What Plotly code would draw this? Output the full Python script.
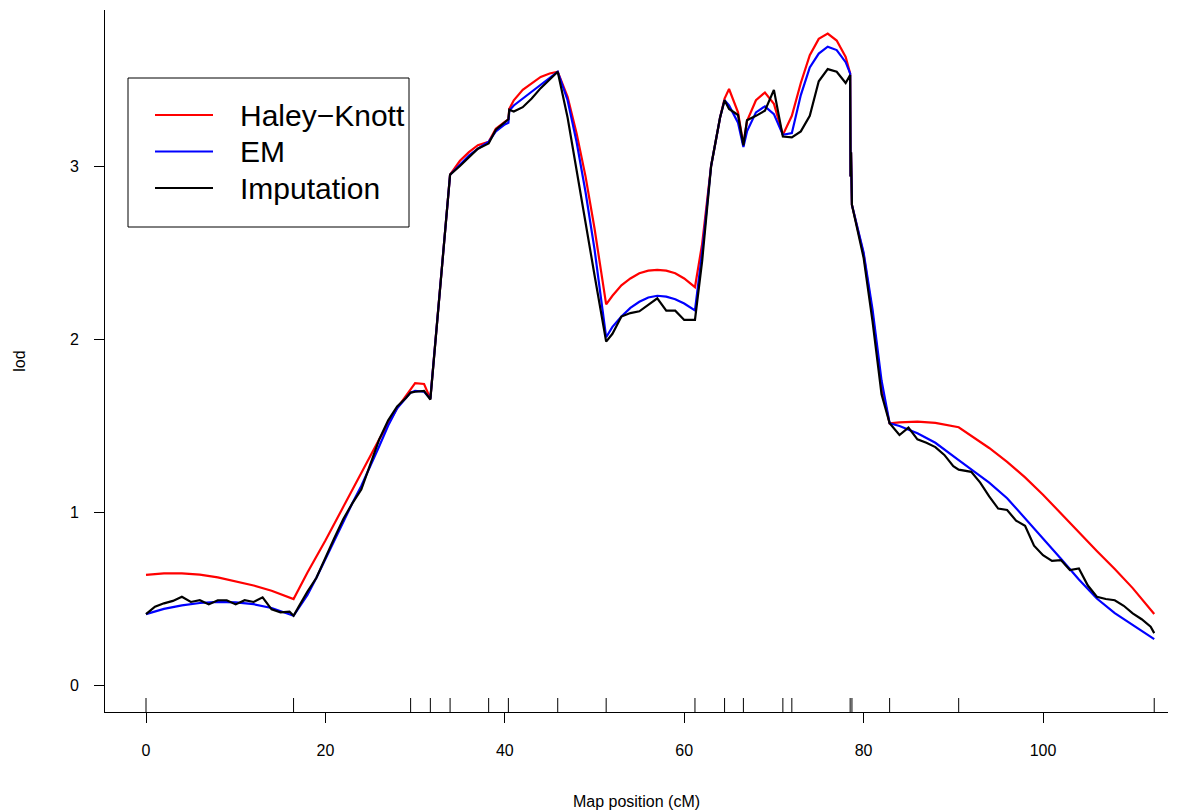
import plotly.graph_objects as go

# ---------------- data ----------------
markers = [0, 16.45, 29.5, 31.7, 33.9, 38.2, 40.4, 45.9, 51.3, 61.2, 64.5, 66.6,
           71.0, 72.0, 78.5, 78.7, 82.9, 90.6, 112.4]

pos_hk = [0, 2, 4, 6, 8, 10, 12, 14, 16.45, 18, 20, 22, 24, 26, 28, 29.5, 30, 31, 31.7,
          33.9, 35, 36, 37, 38.2, 39, 40, 40.4, 40.5, 41, 42, 43, 44, 45, 45.9,
          47, 48, 49, 50, 51.3, 52, 53, 54, 55, 56, 57, 58, 59, 60, 61.2,
          62, 63, 64, 64.5, 65, 66, 66.6, 67, 68, 69, 70, 71, 72, 73, 74, 75, 76, 77, 78,
          78.5, 78.55, 78.6, 78.7, 80, 81, 82, 82.9, 84, 86, 88, 90.6, 92, 94, 96, 98,
          100, 102, 104, 106, 108, 110, 112.4]
lod_hk = [0.636, 0.645, 0.645, 0.638, 0.622, 0.600, 0.575, 0.545, 0.497, 0.65, 0.835, 1.03,
          1.225, 1.42, 1.60, 1.71, 1.745, 1.74, 1.655,
          2.95, 3.03, 3.08, 3.12, 3.14, 3.215, 3.255, 3.27, 3.33, 3.38, 3.44, 3.48, 3.515, 3.535, 3.545,
          3.40, 3.19, 2.94, 2.64, 2.20, 2.25, 2.31, 2.35, 2.38, 2.395, 2.40, 2.395, 2.38, 2.35, 2.30,
          2.55, 3.00, 3.28, 3.39, 3.445, 3.31, 3.12, 3.26, 3.38, 3.425, 3.36, 3.18, 3.29, 3.48,
          3.64, 3.735, 3.765, 3.725, 3.63,
          3.535, 2.94, 3.08, 2.775, 2.49, 2.14, 1.72, 1.513, 1.518, 1.522, 1.515, 1.49, 1.44,
          1.37, 1.29, 1.20, 1.10, 0.99, 0.885, 0.775, 0.67, 0.56, 0.41]

pos_em = [0, 2, 4, 6, 8, 10, 12, 14, 16.45, 17, 18, 19, 20, 21, 22, 23, 24, 25, 26, 27, 28,
          29.5, 30, 31, 31.7, 33.9, 35, 36, 37, 38.2, 39, 40, 40.4, 40.5, 41, 42, 43, 44, 45, 45.9,
          47, 48, 49, 50, 51.3, 52, 53, 54, 55, 56, 57, 58, 59, 60, 61.2,
          62, 63, 64, 64.5, 65, 66, 66.6, 67, 68, 69, 70, 71, 72, 73, 74, 75, 76, 77, 78,
          78.5, 78.55, 78.6, 78.7, 80, 81, 82, 82.9, 84, 86, 88, 90.6, 92, 94, 96, 98,
          100, 102, 104, 106, 108, 110, 112.4]
lod_em = [0.41, 0.44, 0.46, 0.474, 0.48, 0.478, 0.467, 0.445, 0.40, 0.44, 0.52, 0.62, 0.73,
          0.84, 0.95, 1.05, 1.15, 1.26, 1.38, 1.50, 1.60,
          1.69, 1.70, 1.695, 1.655, 2.95, 3.01, 3.06, 3.10, 3.14, 3.20, 3.24, 3.25, 3.32, 3.35,
          3.39, 3.43, 3.47, 3.51, 3.545,
          3.38, 3.14, 2.85, 2.52, 2.01, 2.07, 2.13, 2.18, 2.215, 2.24, 2.25, 2.245, 2.23, 2.205, 2.165,
          2.50, 3.00, 3.28, 3.38, 3.35, 3.25, 3.11, 3.20, 3.31, 3.345, 3.30, 3.18, 3.19, 3.41,
          3.57, 3.65, 3.69, 3.67, 3.60,
          3.535, 2.94, 3.08, 2.775, 2.50, 2.17, 1.76, 1.513, 1.497, 1.455, 1.40, 1.30, 1.245,
          1.17, 1.08, 0.965, 0.85, 0.73, 0.61, 0.50, 0.415, 0.345, 0.265]

pos_imp = [0, 1, 2, 3, 4, 5, 6, 7, 8, 9, 10, 11, 12, 13, 14, 15, 16, 16.45,
           17, 18, 19, 20, 21, 22, 23, 24, 25, 26, 27, 28, 29, 29.5, 30, 31, 31.7,
           33.9, 35, 36, 37, 38, 38.2, 39, 40, 40.4, 40.5, 41, 42, 43, 44, 45, 45.9,
           47, 48, 49, 50, 51.3, 52, 53, 54, 55, 56, 57, 58, 59, 60, 61.2,
           62, 63, 64, 64.5, 65, 66, 66.6, 67, 68, 69, 70, 71, 72, 73, 74, 75, 76, 77, 78,
           78.5, 78.55, 78.6, 78.7, 80, 81, 82, 82.9,
           84, 85, 86, 87, 88, 89, 90, 90.6, 91, 92, 93, 94, 95, 96, 97, 98, 99, 100,
           101, 102, 103, 104, 105, 106, 107, 108, 109, 110, 111, 112, 112.4]
lod_imp = [0.41, 0.453, 0.472, 0.486, 0.51, 0.48, 0.49, 0.466, 0.49, 0.49, 0.466, 0.49, 0.48,
           0.507, 0.437, 0.42, 0.424, 0.40,
           0.45, 0.54, 0.62, 0.74, 0.85, 0.96, 1.05, 1.13, 1.28, 1.42, 1.53, 1.61, 1.66, 1.69,
           1.695, 1.70, 1.65,
           2.95, 3.00, 3.05, 3.10, 3.125, 3.13, 3.21, 3.255, 3.27, 3.325, 3.315, 3.34, 3.39, 3.45,
           3.50, 3.545,
           3.28, 2.97, 2.67, 2.37, 1.985, 2.03, 2.13, 2.15, 2.16, 2.20, 2.235, 2.164, 2.164, 2.11, 2.11,
           2.45, 3.00, 3.28, 3.38, 3.33, 3.295, 3.12, 3.265, 3.29, 3.32, 3.44, 3.17, 3.165, 3.20,
           3.29, 3.49, 3.56, 3.545, 3.48,
           3.526, 2.94, 3.08, 2.775, 2.47, 2.10, 1.68, 1.513,
           1.445, 1.488, 1.42, 1.40, 1.375, 1.33, 1.265, 1.245, 1.24, 1.232, 1.17, 1.09, 1.02,
           1.012, 0.95, 0.92, 0.805, 0.75,
           0.717, 0.722, 0.665, 0.674, 0.575, 0.51, 0.497, 0.49, 0.458, 0.414, 0.38, 0.337, 0.30]

x_ticks = [0, 20, 40, 60, 80, 100]
y_ticks = [0, 1, 2, 3]
series_names = ["Haley\u2212Knott", "EM", "Imputation"]
series_colors = ["#FF0000", "#0000FF", "#000000"]

# ---------------- figure ----------------
FONT = "Liberation Sans, Arial, Helvetica, sans-serif"
OFF = 8                     # page body margin of the browser
W, H = 1185 - OFF, 812 - OFF
ML, MR, MT, MB = 105 - OFF, 17, 10 - OFF, 100
PW, PH = W - ML - MR, H - MT - MB

fig = go.Figure()
for name, px, py, col in zip(series_names, [pos_hk, pos_em, pos_imp],
                             [lod_hk, lod_em, lod_imp], series_colors):
    fig.add_trace(go.Scatter(x=px, y=py, mode="lines", name=name,
                             line=dict(color=col, width=2.2), showlegend=False))

# marker rug along the bottom axis
for m in markers:
    fig.add_shape(type="line", xref="x", yref="paper", ysizemode="pixel", yanchor=0,
                  x0=m, x1=m, y0=0, y1=14, line=dict(color="black", width=1))

# manual legend (R style), positions given in screen pixels
def px2x(p):
    return (p - OFF - ML) / PW

def py2y(p):
    return (OFF + MT + PH - p) / PH

fig.add_shape(type="rect", xref="paper", yref="paper",
              x0=px2x(128), x1=px2x(409), y0=py2y(227), y1=py2y(78),
              line=dict(color="black", width=1), fillcolor="white", layer="above")
for i, (name, col) in enumerate(zip(series_names, series_colors)):
    yy = py2y(115 + 36.5 * i)
    fig.add_shape(type="line", xref="paper", yref="paper", x0=px2x(155), x1=px2x(213),
                  y0=yy, y1=yy, line=dict(color=col, width=2.2), layer="above")
    fig.add_annotation(xref="paper", yref="paper", x=px2x(238), y=yy, text=name,
                       showarrow=False, xanchor="left", yanchor="middle",
                       font=dict(family=FONT, size=30, color="black"))

fig.update_layout(
    width=W, height=H,
    margin=dict(l=ML, r=MR, t=MT, b=MB, autoexpand=False),
    plot_bgcolor="white", paper_bgcolor="white",
    font=dict(family=FONT, size=16, color="black"),
    showlegend=False,
)
fig.update_xaxes(range=[(105 - 146) / 8.97, (1168 - 146) / 8.97], tickvals=x_ticks,
                 ticks="outside", ticklen=10, tickcolor="black", showline=True,
                 linecolor="black", linewidth=1, showgrid=False, zeroline=False,
                 ticklabelstandoff=14, automargin=False,
                 title=dict(text="Map position (cM)", standoff=37, font=dict(size=16)))
fig.update_yaxes(range=[-27 / 173, 675 / 173], tickvals=y_ticks,
                 ticks="outside", ticklen=10, tickcolor="black", showline=True,
                 linecolor="black", linewidth=1, showgrid=False, zeroline=False,
                 ticklabelstandoff=12, automargin=False,
                 title=dict(text="lod", standoff=40, font=dict(size=16)))

fig.write_html("out.html")
